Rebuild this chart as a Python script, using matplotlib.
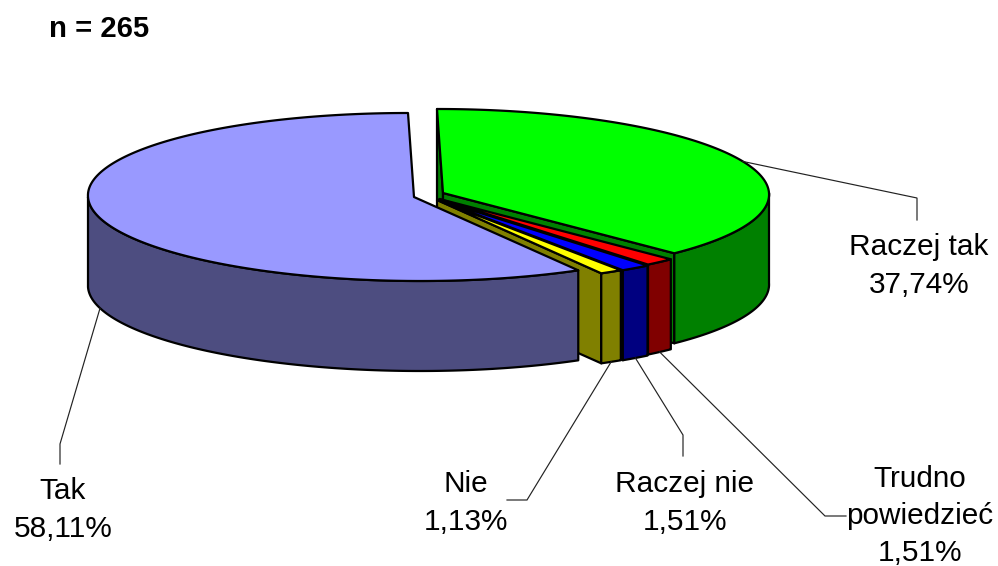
import numpy as np
import matplotlib
matplotlib.use("Agg")
import matplotlib.pyplot as plt

plt.rcParams['font.family'] = ['Liberation Sans', 'DejaVu Sans']

# --- data (clockwise from 12 o'clock) ---
categories = ["Raczej tak", "Trudno\npowiedzieć", "Raczej nie", "Nie", "Tak"]
shares = [37.74, 1.51, 1.51, 1.13, 58.11]
title = "n = 265"

# --- styles ---
top_colors = ["#00FF00", "#FF0000", "#0000FF", "#FFFF00", "#9999FF"]
side_colors = ["#008000", "#800000", "#000080", "#808000", "#4D4D80"]
centers = [(443, 193), (439.5, 199), (439, 200), (437, 200), (414, 197)]
RX, RY, SHEAR, DEPTH = 326, 84, 6, 90
EDGE = dict(edgecolor="black", linewidth=1.6, joinstyle="round")

# leader routes: elbow and end, and where the leader leaves the slice
elbows = [[(917, 198), (917, 220)], [(825, 516), (846, 516)], [(683, 435), (683, 456)],
          [(527, 500), (507, 500)], [(60, 444), (60, 464)]]
leader_drop = [0, DEPTH, DEPTH, DEPTH, DEPTH]
label_pos = [(919, 266), (920, 516), (685, 503), (466, 503), (63, 510)]

fig = plt.figure(figsize=(9.98, 5.66), dpi=100)
ax = fig.add_axes([0, 0, 1, 1])
ax.set_xlim(0, 998)
ax.set_ylim(566, 0)
ax.axis("off")


def rim(center, theta_deg):
    t = np.radians(theta_deg)
    return (center[0] + RX * np.sin(t) - SHEAR * np.cos(t),
            center[1] - RY * np.cos(t))


def quad(center, theta, color):
    ox, oy = rim(center, theta)
    cx, cy = center
    ax.fill([cx, ox, ox, cx], [cy, oy, oy + DEPTH, cy + DEPTH], facecolor=color, **EDGE)


edges = np.concatenate([[0], np.cumsum(shares)]) / sum(shares) * 360
for i, (a, b) in enumerate(zip(edges[:-1], edges[1:])):
    c = centers[i]
    # cut faces that turn towards the viewer
    if a < 1:
        quad(c, a, side_colors[i])
    if b < 180:
        quad(c, b, side_colors[i])
    # outer wall on the front half
    lo, hi = max(a, 90), min(b, 270)
    if hi > lo:
        th = np.linspace(lo, hi, 200)
        x, y = rim(c, th)
        ax.fill(np.r_[x, x[::-1]], np.r_[y, y[::-1] + DEPTH], facecolor=side_colors[i], **EDGE)
    # top face
    th = np.linspace(a, b, 300)
    x, y = rim(c, th)
    ax.fill(np.r_[c[0], x], np.r_[c[1], y], facecolor=top_colors[i], **EDGE)

# leaders and labels
for i, (a, b) in enumerate(zip(edges[:-1], edges[1:])):
    sx, sy = rim(centers[i], (a + b) / 2)
    sy += leader_drop[i]
    (ex, ey), (fx, fy) = elbows[i]
    ax.plot([sx, ex, fx], [sy, ey, fy], color="#222222", lw=0.85, solid_joinstyle="miter")
    label = f"{categories[i]}\n{shares[i]:.2f}%".replace(".", ",")
    ax.text(*label_pos[i], label, ha="center", va="center", fontsize=21.4,
            linespacing=1.41, color="black")

ax.text(49, 29, title, ha="left", va="center", fontsize=21.1, fontweight="bold", color="black")

fig.savefig("out.png", dpi=100)
